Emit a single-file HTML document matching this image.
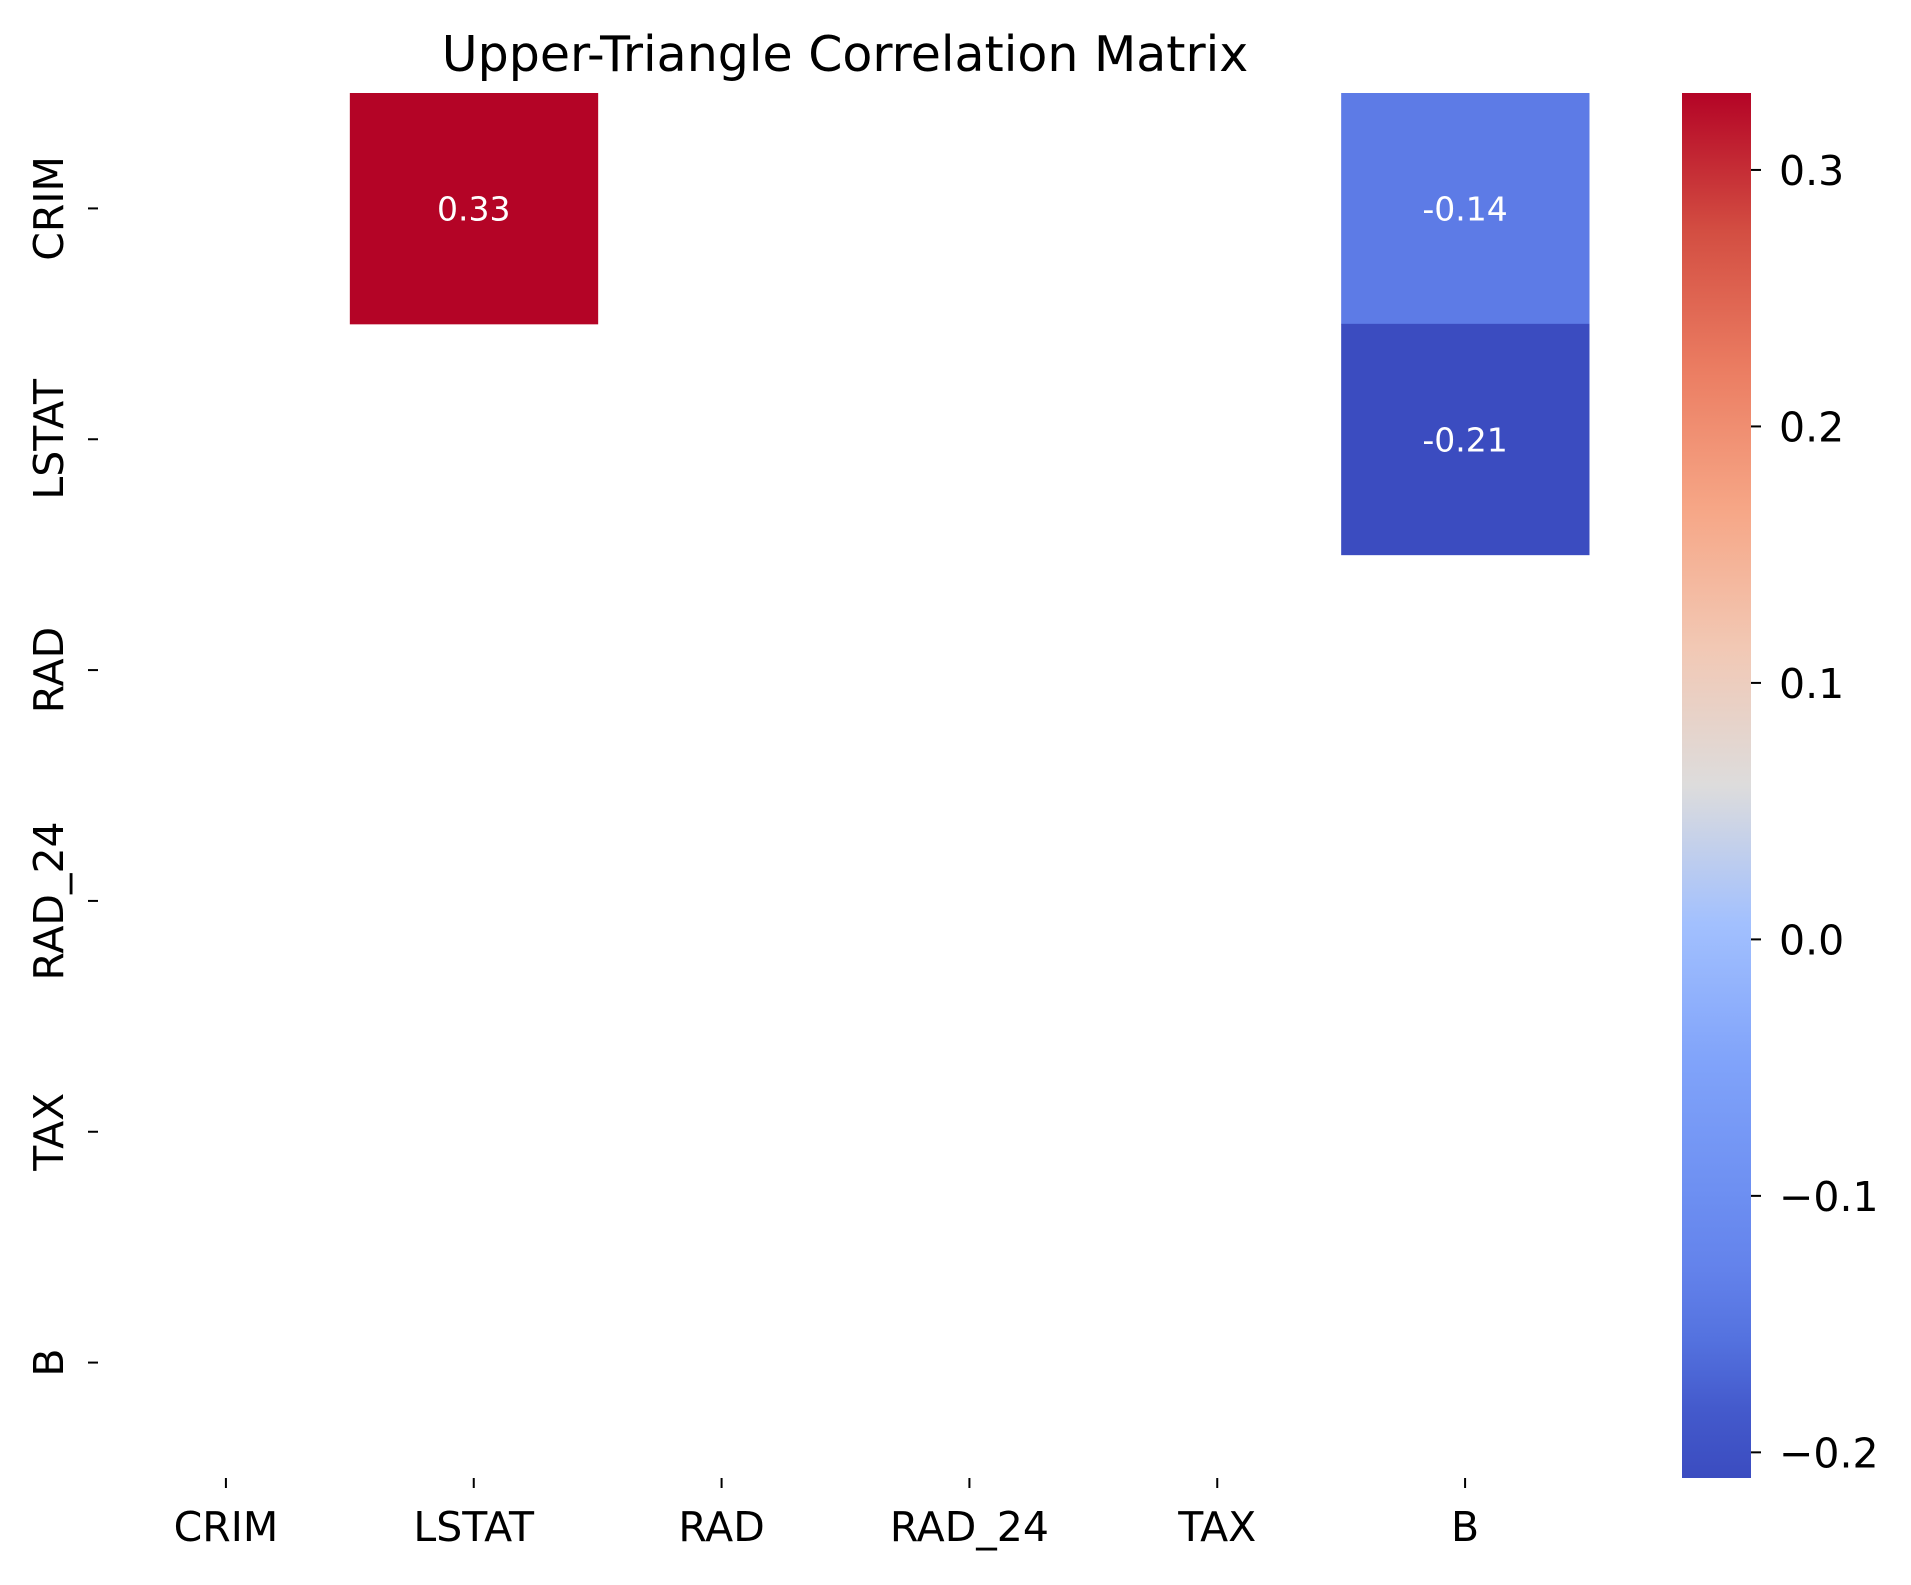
<!DOCTYPE html>
<html><head><meta charset="utf-8"><style>
html,body{margin:0;padding:0;background:#fff;}
svg text{font-family:"DejaVu Sans","Liberation Sans",sans-serif;}
</style></head><body>
<svg id="chart" width="1911" height="1580" viewBox="0 0 1911 1580" xmlns="http://www.w3.org/2000/svg">
<defs>
<linearGradient id="cw" x1="0" y1="1" x2="0" y2="0"></linearGradient>
</defs>
<text x="845" y="71" font-size="49" text-anchor="middle" fill="#000">Upper-Triangle Correlation Matrix</text>
<g id="cells"></g>
<g id="axes"></g>
<g id="cbar"></g>
</svg>
<script>
const labels = ["CRIM","LSTAT","RAD","RAD_24","TAX","B"];
const cellRows = [0, 0, 1];
const cellCols = [1, 5, 5];
const cellValues = [0.33, -0.14, -0.21];
const cbarMin = -0.21;
const cbarMax = 0.33;
const cbarTicks = [-0.2, -0.1, 0.0, 0.1, 0.2, 0.3];
const cbarTickLabels = ["\u22120.2","\u22120.1","0.0","0.1","0.2","0.3"];

const NS = "http://www.w3.org/2000/svg";
const X0 = 102, X1 = 1589, Y0 = 93, Y1 = 1478;
const cw = (X1 - X0) / labels.length, ch = (Y1 - Y0) / labels.length;
const xs = i => X0 + i * cw;
const ys = i => Y0 + i * ch;
const stops = [[0,[59,76,192]],[0.05,[68,90,204]],[0.1,[84,114,223]],[0.15,[99,130,235]],[0.2,[108,142,241]],[0.3,[128,163,250]],[0.4,[162,192,254]],[0.5,[221,220,220]],[0.6,[242,200,180]],[0.7,[246,166,134]],[0.8,[235,125,98]],[0.9,[211,78,66]],[1,[180,4,38]]];
function cmap(t){t=Math.max(0,Math.min(1,t));for(let i=1;i<stops.length;i++){if(t<=stops[i][0]){const a=stops[i-1],b=stops[i],f=(t-a[0])/(b[0]-a[0]);return "rgb("+a[1].map((v,k)=>Math.round(v+(b[1][k]-v)*f)).join(",")+")";}}return "rgb(180,4,38)";}
function mk(tag, attrs, parent){const e=document.createElementNS(NS,tag);for(const k in attrs)e.setAttribute(k,attrs[k]);parent.appendChild(e);return e;}

const gc = document.getElementById("cells");
cellValues.forEach((v,i)=>{
  const r = mk("rect",{x:xs(cellCols[i]),y:ys(cellRows[i]),width:cw+0.5,height:ch+0.5,fill:cmap((v-cbarMin)/(cbarMax-cbarMin))},gc);
  
  
  const t = mk("text",{x:xs(cellCols[i])+cw/2,y:ys(cellRows[i])+ch/2+12,"font-size":33,"text-anchor":"middle",fill:"#fff"},gc);
  
  
  t.textContent = v.toFixed(2);
});

const ga = document.getElementById("axes");
labels.forEach((l,i)=>{
  const cx = xs(i)+cw/2, cy = ys(i)+ch/2;
  const tx = mk("line",{x1:cx,y1:Y1,x2:cx,y2:Y1+10,stroke:"#000","stroke-width":2},ga);
  
  
  const lx = mk("text",{x:cx,y:1541,"font-size":41,"text-anchor":"middle",fill:"#000"},ga);
  
  
  lx.textContent = l;
  const ty = mk("line",{x1:X0-14,y1:cy,x2:X0-4,y2:cy,stroke:"#000","stroke-width":2},ga);
  
  
  const ly = mk("text",{x:0,y:0,"font-size":41,"text-anchor":"middle",fill:"#000",transform:"translate(63,"+cy+") rotate(-90)"},ga);
  
  
  ly.textContent = l;
});

const grad = document.getElementById("cw");
stops.forEach(s=>{mk("stop",{offset:s[0],"stop-color":"rgb("+s[1].join(",")+")"},grad);});
const gb = document.getElementById("cbar");
const CB0 = 1682, CB1 = 1751;
const cy = v => Y1 - (v - cbarMin)/(cbarMax-cbarMin)*(Y1-Y0);
const bar = mk("rect",{x:CB0,y:Y0,width:CB1-CB0,height:Y1-Y0,fill:"url(#cw)"},gb);


cbarTicks.forEach((v,i)=>{
  const y = cy(v);
  const tk = mk("line",{x1:CB1,y1:y,x2:CB1+10,y2:y,stroke:"#000","stroke-width":2},gb);
  
  
  const tl = mk("text",{x:CB1+28,y:y+15,"font-size":41,fill:"#000"},gb);
  
  
  tl.textContent = cbarTickLabels[i];
});
</script>
</body></html>
